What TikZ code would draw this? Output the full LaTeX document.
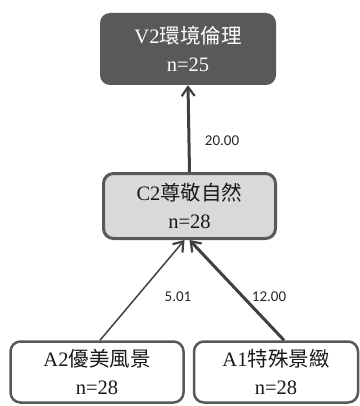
\documentclass[tikz,border=0pt]{standalone}
\usepackage{fontspec}
\setmainfont{Liberation Serif}
\newfontfamily\cjk{Noto Sans CJK TC}
\newfontfamily\lblfont{Carlito}
\usetikzlibrary{arrows.meta}
\definecolor{boxdark}{HTML}{595959}
\definecolor{boxlight}{HTML}{D9D9D9}
\definecolor{linecol}{HTML}{404040}
\begin{document}
\begin{tikzpicture}[x=1pt,y=-1pt,
  box/.style={rounded corners=10pt, align=center, inner sep=0pt,
    font=\fontsize{20.5}{28}\selectfont, text=black!90},
  conn/.style={draw=linecol, -{Straight Barb[length=9pt,width=13pt,line width=2.2pt]}},
  lbl/.style={font=\lblfont\fontsize{15}{17}\selectfont, text=black!85}]
\useasboundingbox (0,0) rectangle (359,406);
\node[box, fill=boxdark, text=white, minimum width=176pt, minimum height=72pt]
  (V2) at (188,49) {V2{\cjk 環境倫理}\\n=25};
\node[box, fill=boxlight, draw=boxdark, line width=3pt, minimum width=172pt, minimum height=65pt]
  (C2) at (189.5,206) {C2{\cjk 尊敬自然}\\n=28};
\node[box, fill=white, draw=boxdark, line width=2.5pt, minimum width=173pt, minimum height=61pt]
  (A2) at (97,372) {A2{\cjk 優美風景}\\n=28};
\node[box, fill=white, draw=boxdark, line width=2.5pt, minimum width=164pt, minimum height=61pt]
  (A1) at (276,372) {A1{\cjk 特殊景緻}\\n=28};
\draw[conn, line width=3pt] (C2.north) -- (V2.south);
\draw[conn, line width=1.5pt] ([xshift=3pt]A2.north) -- ([xshift=-5pt]C2.south);
\draw[conn, line width=3pt] ([xshift=8pt]A1.north) -- ([xshift=0pt]C2.south);
\node[lbl] (l1) at (222,141) {20.00};
\node[lbl] (l2) at (178,297) {5.01};
\node[lbl] (l3) at (269,297) {12.00};
\end{tikzpicture}
\end{document}
